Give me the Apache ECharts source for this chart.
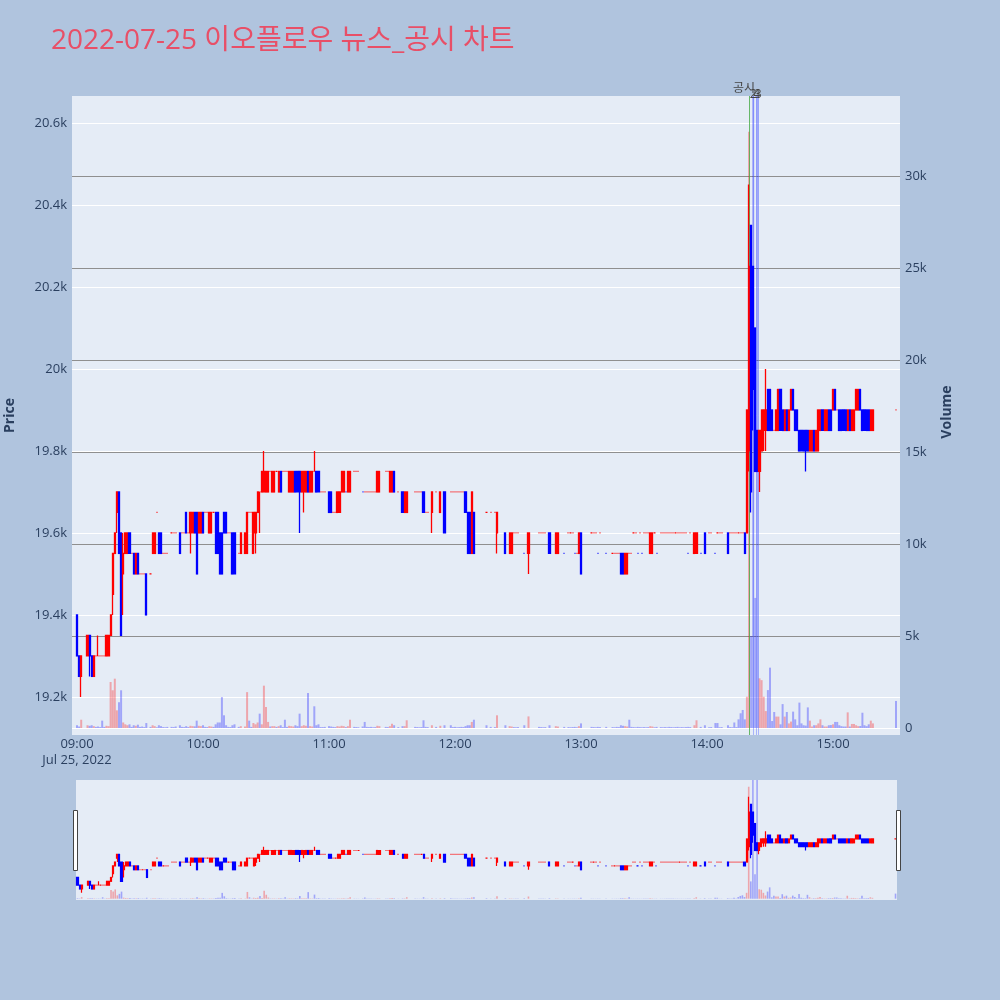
<!DOCTYPE html>
<html><head><meta charset="utf-8">
<script src="https://cdn.jsdelivr.net/npm/echarts@6/dist/echarts.min.js"></script>
<style>html,body{margin:0;padding:0;background:#b0c4de;}#chart{width:1000px;height:1000px;}</style>
</head><body><div id="chart"></div>
<script>
const chartTitle = '2022-07-25 이오플로우 뉴스_공시 차트';
const dateLabel = 'Jul 25, 2022';
const xTickMinutes = [0, 60, 120, 180, 240, 300, 360];
const xTickLabels = ['09:00', '10:00', '11:00', '12:00', '13:00', '14:00', '15:00'];
const priceTicks = [19200, 19400, 19600, 19800, 20000, 20200, 20400, 20600];
const volumeTicks = [0, 5000, 10000, 15000, 20000, 25000, 30000];
const eventMinutes = [320, 322, 323.6, 324.4];
const eventLabels = ['공시', '2', '4', '3'];

// index = minutes after 09:00
const openP = [
19400,19300,19250,null,null,19300,19350,19300,19250,19300,
19300,19300,19300,19300,19300,19300,19350,19450,19550,19650,
19700,19600,19500,19550,19550,19600,19550,19550,19500,19550,
19500,19500,19500,19500,null,19500,19550,19550,19650,19600,
19600,19550,19550,19550,null,19600,19600,19600,null,19600,
19600,19600,19650,19600,19600,19600,19650,19650,19600,19600,
19650,19650,19650,19600,19600,19650,19650,19650,19600,19600,
19650,19650,19600,19600,19600,19600,null,19550,19550,null,
19550,19550,19650,19650,19550,19600,19650,19700,19700,19700,
19700,19700,19750,19700,19700,19750,19700,19750,19750,19750,
19750,19700,19700,19700,19750,19750,19750,19700,19700,19700,
19750,19700,19700,19750,19750,19750,19700,19700,19700,null,
19700,19700,19650,19650,19650,19650,19700,19700,19700,19700,
19700,null,19750,19750,19750,null,19700,19700,19700,19700,
19700,19700,19700,19700,19700,null,null,19750,19750,19700,
19700,19750,null,19700,null,19700,19650,19650,null,null,
null,19700,19700,19700,19700,19700,19650,19650,null,19650,
null,19700,null,19650,null,19700,null,null,19700,19700,
19700,19700,19700,19700,19700,19700,19650,19650,19550,19650,
null,null,null,null,null,19650,null,19650,null,19650,
19600,null,null,null,19600,null,19550,19550,19600,19600,
19600,null,null,19550,null,19550,null,null,null,null,
19600,19600,19600,19600,null,19600,null,null,19550,19550,
null,null,19550,null,19600,19600,19600,19550,19550,19550,
19600,null,null,null,null,19600,19600,19600,19550,19600,
null,null,19550,null,null,19550,19550,19550,19550,19550,
19550,19500,19500,19550,19550,19600,19600,19550,19600,19550,
19600,19600,19600,19550,19550,19600,19550,null,19600,19600,
19600,19600,19600,19600,19600,19600,19600,19600,19600,19600,
19600,19550,19600,null,19550,19550,null,19550,null,19600,
null,19600,19600,null,19550,19600,19600,19600,null,null,
19600,19600,19600,19600,19600,19600,19600,19600,19600,19600,
19800,20350,20250,20100,19850,19750,19800,19850,19850,19950,
19950,19900,19850,19850,19850,19950,19900,19850,19900,19850,
19900,19950,19900,19900,19850,19850,19850,19850,19850,19800,
19800,19850,19800,19800,19850,19900,19850,19850,19900,19900,
19900,19950,19900,19900,19900,19900,19900,19850,19900,19850,
19850,19900,19900,19950,19900,19900,19900,19900,19850,19850,
null,null,null,null,null,null,null,null,null,null,
19900];

const closeP = [
19300,19250,19300,null,null,19350,19300,19250,19300,19300,
19300,19300,19300,19300,19350,19350,19400,19550,19600,19700,
19550,19350,19550,19600,19600,19550,19550,19500,19550,19500,
19500,19500,19500,19400,null,19500,19600,19600,19650,19550,
19550,19550,19550,19550,null,19600,19600,19600,null,19550,
19600,19600,19600,19600,19650,19650,19600,19500,19650,19650,
19600,19650,19650,19650,19650,19650,19550,19550,19500,19500,
19600,19600,19600,19600,19500,19500,null,19550,19600,null,
19600,19650,19650,19650,19650,19650,19700,19700,19750,19750,
19750,19750,19750,19750,19750,19750,19750,19700,19750,19750,
19750,19750,19750,19750,19700,19700,19700,19750,19750,19750,
19700,19750,19750,19750,19700,19700,19700,19700,19700,null,
19650,19650,19650,19650,19700,19700,19750,19750,19700,19750,
19750,null,19750,19750,19750,null,19700,19700,19700,19700,
19700,19700,19700,19750,19750,null,null,19750,19750,19750,
19750,19700,null,19700,null,19650,19700,19700,null,null,
null,19700,19700,19700,19700,19650,19650,19650,null,19700,
null,19700,null,19700,null,19600,null,null,19700,19700,
19700,19700,19700,19700,19700,19650,19550,19550,19700,19550,
null,null,null,null,null,19650,null,19650,null,19650,
19650,null,null,null,19550,null,19600,19600,19600,19600,
19600,null,null,19550,null,19600,null,null,null,null,
19600,19600,19600,19600,null,19550,null,null,19600,19600,
null,null,19550,null,19600,19600,19600,19550,19550,19600,
19500,null,null,null,null,19600,19600,19600,19550,19600,
null,null,19550,null,null,19550,19550,19550,19550,19500,
19500,19550,19550,19550,19550,19600,19600,19550,19600,19550,
19600,19600,19600,19600,19600,19600,19550,null,19600,19600,
19600,19600,19600,19600,19600,19600,19600,19600,19600,19600,
19600,19550,19600,null,19600,19600,null,19550,null,19550,
null,19600,19600,null,19550,19600,19600,19600,null,null,
19550,19600,19600,19600,19600,19600,19600,19600,19550,19900,
20250,19700,19950,19750,19750,19850,19900,19900,19900,19850,
19850,19850,19850,19900,19950,19850,19850,19900,19850,19900,
19950,19900,19850,19850,19800,19800,19800,19800,19800,19850,
19850,19800,19850,19900,19900,19850,19900,19900,19850,19850,
19950,19900,19900,19850,19850,19850,19850,19900,19850,19900,
19900,19950,19950,19900,19850,19850,19850,19850,19900,19900,
null,null,null,null,null,null,null,null,null,null,
19900];

const lowP = [
19300,19250,19200,null,null,19300,19250,19250,19250,19300,
19300,19300,19300,19300,19300,19300,19350,19400,19550,19600,
19550,19350,19400,19550,19550,19550,19550,19500,19500,19500,
19500,19500,19500,19400,null,19500,19550,19550,19650,19550,
19550,19550,19550,19550,null,19600,19600,19600,null,19550,
19600,19600,19600,19600,19550,19600,19600,19500,19600,19600,
19600,19650,19650,19600,19600,19650,19550,19550,19500,19500,
19600,19600,19600,19600,19500,19500,null,19550,19550,null,
19550,19550,19650,19650,19550,19550,19650,19600,19700,19700,
19700,19700,19750,19700,19700,19750,19700,19700,19750,19750,
19750,19700,19700,19700,19700,19700,19600,19700,19650,19700,
19700,19700,19700,19750,19700,19700,19700,19700,19700,null,
19650,19650,19650,19650,19650,19650,19700,19700,19700,19700,
19700,null,19750,19750,19750,null,19700,19700,19700,19700,
19700,19700,19700,19700,19700,null,null,19750,19750,19700,
19700,19700,null,19700,null,19650,19650,19650,null,null,
null,19700,19700,19700,19700,19650,19650,19650,null,19600,
null,19700,null,19650,null,19600,null,null,19700,19700,
19700,19700,19700,19700,19700,19650,19550,19550,19550,19550,
null,null,null,null,null,19650,null,19650,null,19650,
19550,null,null,null,19550,null,19550,19550,19600,19600,
19600,null,null,19550,null,19500,null,null,null,null,
19600,19600,19600,19600,null,19550,null,null,19550,19550,
null,null,19550,null,19600,19600,19600,19550,19550,19550,
19500,null,null,null,null,19600,19600,19600,19550,19600,
null,null,19550,null,null,19550,19550,19550,19550,19500,
19500,19500,19500,19550,19550,19600,19600,19550,19600,19550,
19600,19600,19600,19550,19550,19600,19550,null,19600,19600,
19600,19600,19600,19600,19600,19600,19600,19600,19600,19600,
19600,19550,19600,null,19550,19550,null,19550,null,19550,
null,19600,19600,null,19550,19600,19600,19600,null,null,
19550,19600,19600,19600,19600,19600,19600,19600,19550,19600,
19750,19650,19850,19750,19750,19700,19800,19800,19800,19850,
19850,19850,19850,19850,19850,19850,19850,19850,19850,19850,
19900,19900,19850,19850,19800,19800,19800,19750,19800,19800,
19800,19800,19800,19800,19850,19850,19850,19850,19850,19850,
19900,19900,19900,19850,19850,19850,19850,19850,19850,19850,
19850,19900,19900,19900,19850,19850,19850,19850,19850,19850,
null,null,null,null,null,null,null,null,null,null,
19900];

const highP = [
19400,19300,19300,null,null,19350,19350,19300,19300,19300,
19350,19300,19300,19300,19350,19350,19400,19550,19600,19700,
19700,19600,19600,19600,19600,19600,19550,19550,19550,19550,
19500,19500,19500,19500,null,19500,19600,19600,19650,19600,
19600,19550,19550,19550,null,19600,19600,19600,null,19600,
19600,19600,19650,19600,19650,19650,19650,19650,19650,19650,
19650,19650,19650,19650,19650,19650,19650,19650,19600,19600,
19650,19650,19600,19600,19600,19600,null,19550,19600,null,
19600,19650,19650,19650,19650,19650,19700,19700,19750,19800,
19750,19750,19750,19750,19750,19750,19750,19750,19750,19750,
19750,19750,19750,19750,19750,19750,19750,19750,19750,19750,
19750,19750,19750,19800,19750,19750,19700,19700,19700,null,
19700,19700,19650,19650,19700,19700,19750,19750,19700,19750,
19750,null,19750,19750,19750,null,19700,19700,19700,19700,
19700,19700,19700,19750,19750,null,null,19750,19750,19750,
19750,19750,null,19700,null,19700,19700,19700,null,null,
null,19700,19700,19700,19700,19700,19650,19650,null,19700,
null,19700,null,19700,null,19700,null,null,19700,19700,
19700,19700,19700,19700,19700,19700,19650,19650,19700,19650,
null,null,null,null,null,19650,null,19650,null,19650,
19650,null,null,null,19600,null,19600,19600,19600,19600,
19600,null,null,19550,null,19600,null,null,null,null,
19600,19600,19600,19600,null,19600,null,null,19600,19600,
null,null,19550,null,19600,19600,19600,19550,19550,19600,
19600,null,null,null,null,19600,19600,19600,19550,19600,
null,null,19550,null,null,19550,19550,19550,19550,19550,
19550,19550,19550,19550,19550,19600,19600,19550,19600,19550,
19600,19600,19600,19600,19600,19600,19550,null,19600,19600,
19600,19600,19600,19600,19600,19600,19600,19600,19600,19600,
19600,19550,19600,null,19600,19600,null,19550,null,19600,
null,19600,19600,null,19550,19600,19600,19600,null,null,
19600,19600,19600,19600,19600,19600,19600,19600,19600,19900,
20450,20350,20250,20100,19850,19850,19900,19900,20000,19950,
19950,19900,19850,19900,19950,19950,19900,19900,19900,19900,
19950,19950,19900,19900,19850,19850,19850,19850,19850,19850,
19850,19850,19850,19900,19900,19900,19900,19900,19900,19900,
19950,19950,19900,19900,19900,19900,19900,19900,19900,19900,
19900,19950,19950,19950,19900,19900,19900,19900,19900,19900,
null,null,null,null,null,null,null,null,null,null,
19900];

const volume = [
150,80,450,0,0,150,120,150,100,60,
80,50,400,60,120,100,2500,2050,2680,960,
1400,2050,300,200,150,200,60,150,120,180,
60,80,50,270,0,60,150,100,40,150,
100,50,40,60,0,60,50,80,0,150,
60,50,100,50,120,100,90,400,120,100,
150,60,50,100,80,60,200,300,300,1680,
690,150,60,50,150,200,0,60,100,0,
80,1950,400,60,270,200,300,780,200,2300,
1140,330,80,100,100,60,100,150,50,450,
60,120,100,80,150,100,780,100,150,120,
1900,100,80,1180,150,200,50,50,60,0,
100,80,60,50,100,80,120,100,50,100,
450,0,60,50,40,0,80,330,60,50,
60,40,50,120,100,0,0,60,50,100,
230,150,0,50,0,100,100,420,0,0,
0,60,50,40,50,420,60,50,0,150,
0,60,0,120,0,150,0,0,150,50,
60,40,50,60,50,100,150,150,330,450,
0,0,0,0,0,150,0,60,0,50,
690,0,0,0,150,0,100,80,50,40,
50,0,0,150,0,630,0,0,0,0,
60,50,40,50,0,150,0,0,100,80,
0,0,60,0,50,40,50,60,40,100,
250,0,0,0,0,60,50,40,60,50,
0,0,60,0,0,50,40,60,50,150,
120,100,80,450,60,50,40,60,50,40,
50,40,50,100,80,40,60,0,50,40,
50,40,60,50,40,50,60,40,50,40,
50,60,50,0,150,420,0,60,0,150,
0,40,50,0,270,270,40,50,0,0,
150,50,40,300,50,470,800,980,470,1700,
32400,5000,40000,7070,37000,2700,2600,1700,920,2060,
3280,380,870,620,620,200,1300,620,870,250,
350,890,470,150,1380,250,150,130,1120,400,
80,150,150,250,470,150,80,80,150,160,
200,330,330,150,100,80,80,850,80,220,
220,150,100,110,830,150,100,200,400,250,
0,0,0,0,0,0,0,0,0,0,
1470];

[openP, closeP, lowP, highP, volume].forEach((a, i) => {
  if (a.length !== 391) throw new Error('array ' + i + ' length ' + a.length);
});

const FONT = "'Open Sans', 'Noto Sans CJK KR', sans-serif";
const TXT = '#2a3f5f';
const candles = [], vols = [];
let prevClose = null;
for (let m = 0; m < openP.length; m++) {
  const o = openP[m];
  if (o == null) continue;
  const c = closeP[m];
  const up = c > o ? true : c < o ? false : (prevClose == null || prevClose <= c);
  prevClose = c;
  const col = up ? '#ff0000' : '#0000ff';
  candles.push({ value: [m, o, c, lowP[m], highP[m]],
    itemStyle: { color: col, color0: col, borderColor: col, borderColor0: col, borderColorDoji: col } });
  if (volume[m] > 0) {
    vols.push({ value: [m, volume[m]], itemStyle: { color: c > o ? 'rgba(255,0,0,0.3)' : 'rgba(0,0,255,0.3)' } });
  }
}

function fmtMinute(v) {
  const i = xTickMinutes.indexOf(v);
  const s = i >= 0 ? xTickLabels[i] : '';
  return v === 0 ? s + '\n' + dateLabel : s;
}

const chart = echarts.init(document.getElementById('chart'), null, { renderer: 'canvas' });
chart.setOption({
  animation: false,
  backgroundColor: '#b0c4de',
  title: { text: chartTitle, left: 46, top: 22,
    textStyle: { color: '#e84f67', fontSize: 28, fontWeight: 'normal', fontFamily: FONT } },
  grid: [
    { left: 72, right: 100, top: 96, bottom: 265, show: true, backgroundColor: '#e5ecf6', borderWidth: 0, outerBoundsMode: 'none', containLabel: false },
    { left: 72, right: 100, top: 96, bottom: 272, show: false, outerBoundsMode: 'none', containLabel: false },
    { left: 76, right: 103, top: 780, bottom: 100, show: true, backgroundColor: '#e5ecf6', borderWidth: 0, outerBoundsMode: 'none', containLabel: false }
  ],
  xAxis: [
    { type: 'value', gridIndex: 0, min: -2.38, max: 391.9,
      axisLine: { show: false }, axisTick: { show: false, customValues: xTickMinutes },
      splitLine: { show: false },
      axisLabel: { customValues: xTickMinutes, formatter: fmtMinute, color: TXT, fontSize: 13,
        fontFamily: FONT, margin: 1, lineHeight: 16 } },
    { type: 'value', gridIndex: 1, min: -2.38, max: 391.9, show: false, splitLine: { show: false } },
    { type: 'value', gridIndex: 2, min: -0.7, max: 390.7, show: false, splitLine: { show: false } }
  ],
  yAxis: [
    { type: 'value', gridIndex: 0, min: 19107, max: 20666, position: 'left',
      name: 'Price', nameLocation: 'middle', nameGap: 55, nameMoveOverlap: false,
      nameTextStyle: { color: TXT, fontSize: 14, fontWeight: 'bold', fontFamily: FONT },
      axisLine: { show: false }, axisTick: { show: false, customValues: priceTicks },
      axisLabel: { customValues: priceTicks, color: TXT, fontSize: 13, fontFamily: FONT, margin: 5,
        formatter: v => (v / 1000) + 'k' },
      splitLine: { show: true, lineStyle: { color: '#ffffff', width: 1 } } },
    { type: 'value', gridIndex: 1, min: 0, max: 34348, position: 'right',
      name: 'Volume', nameLocation: 'middle', nameGap: 40, nameMoveOverlap: false,
      nameTextStyle: { color: TXT, fontSize: 14, fontWeight: 'bold', fontFamily: FONT },
      axisLine: { show: false }, axisTick: { show: false, customValues: volumeTicks },
      axisLabel: { customValues: volumeTicks, color: TXT, fontSize: 13, fontFamily: FONT, margin: 5,
        formatter: v => v === 0 ? '0' : (v / 1000) + 'k' },
      splitLine: { show: true,
        lineStyle: { color: ['#ffffff', '#8f8f8f', '#8f8f8f', '#8f8f8f', '#8f8f8f', '#8f8f8f', '#8f8f8f'], width: 1 } } },
    { type: 'value', gridIndex: 2, min: 19107, max: 20666, show: false, splitLine: { show: false } },
    { type: 'value', gridIndex: 2, min: -380, max: 34348, show: false, splitLine: { show: false } }
  ],
  series: [
    { type: 'bar', xAxisIndex: 1, yAxisIndex: 1, data: vols, barWidth: 2, z: 2, encode: { x: 0, y: 1 } },
    { type: 'candlestick', xAxisIndex: 0, yAxisIndex: 0, data: candles, encode: { x: 0, y: [1, 2, 3, 4] },
      barWidth: 1.6, z: 5, itemStyle: { borderWidth: 1.3 },
      markLine: { symbol: ['none', 'none'], silent: true, animation: false,
        data: eventMinutes.map((m, i) => ({ xAxis: m,
          lineStyle: { color: i === 0 ? 'rgba(70,170,70,0.8)' : 'rgba(90,110,255,0.45)', width: 1, type: 'solid' },
          label: { show: true, position: 'end', formatter: eventLabels[i], color: '#444', fontSize: 12,
            fontFamily: FONT, distance: i === 0 ? 1 : -5, offset: i === 0 ? [-5, 0] : [0, 0] } })) } },
    { type: 'bar', xAxisIndex: 2, yAxisIndex: 3, data: vols, barWidth: 1.6, z: 2, encode: { x: 0, y: 1 } },
    { type: 'candlestick', xAxisIndex: 2, yAxisIndex: 2, data: candles, encode: { x: 0, y: [1, 2, 3, 4] },
      barWidth: 1.6, z: 5, itemStyle: { borderWidth: 1.2 } }
  ],
  graphic: [
    { type: 'rect', left: 73, top: 810, shape: { width: 4, height: 60 }, style: { fill: '#ffffff', stroke: '#444444', lineWidth: 1 }, z: 100 },
    { type: 'rect', left: 896, top: 810, shape: { width: 4, height: 60 }, style: { fill: '#ffffff', stroke: '#444444', lineWidth: 1 }, z: 100 }
  ]
});
</script></body></html>
